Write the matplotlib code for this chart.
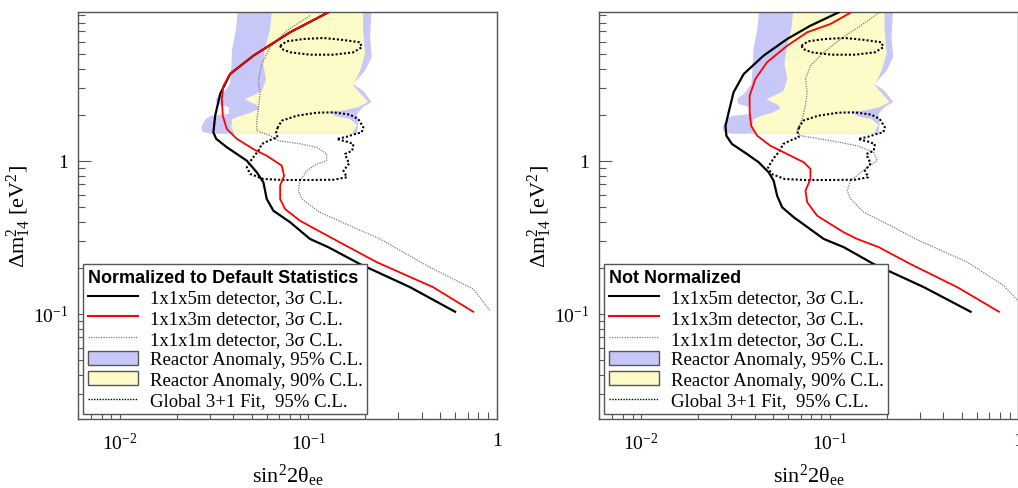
import numpy as np
import matplotlib
matplotlib.use('Agg')
import matplotlib.pyplot as plt
from matplotlib.lines import Line2D
from matplotlib.patches import Patch
from matplotlib.ticker import FixedLocator, FixedFormatter, LogLocator, NullFormatter

# ---- reactor anomaly regions (same on both panels)
anomaly95_x = [0.0424, 0.0413, 0.0394, 0.0389, 0.0384, 0.0350, 0.0322, 0.0328, 0.0378, 0.0378,
               0.0301, 0.0285, 0.0270, 0.0273, 0.0301,
               0.181, 0.1836, 0.181, 0.1952, 0.217, 0.195, 0.173, 0.200, 0.217, 0.2126, 0.217]
anomaly95_y = [10.0, 7.26, 5.37, 3.98, 3.17, 2.73, 2.53, 2.35, 2.24, 2.02,
               1.96, 1.87, 1.66, 1.55, 1.5,
               1.5, 1.74, 2.02, 2.24, 2.42, 2.87, 3.17, 3.87, 4.76, 6.43, 10.0]

anomaly90_x = [0.0642, 0.0626, 0.0589, 0.0575, 0.0596, 0.0568, 0.0503, 0.0461, 0.049, 0.0534,
               0.0547, 0.049, 0.0434, 0.0394, 0.0389, 0.0408,
               0.1706, 0.1814, 0.1664, 0.1386, 0.1303, 0.1566, 0.1836, 0.2074, 0.1881, 0.1727,
               0.1881, 0.200, 0.1952, 0.1952]
anomaly90_y = [10.0, 7.26, 5.37, 4.29, 3.42, 2.855, 2.65, 2.53, 2.42, 2.31,
               2.18, 2.05, 1.96, 1.87, 1.66, 1.5,
               1.5, 1.71, 1.87, 1.96, 2.08, 2.14, 2.24, 2.42, 2.77, 3.12,
               3.87, 5.0, 7.26, 10.0]

# ---- global 3+1 fit, 95% C.L. (two islands)
fit_upper_x = [0.0708, 0.0768, 0.0941, 0.120, 0.1535, 0.188, 0.192, 0.1734, 0.136, 0.102, 0.080, 0.0722]
fit_upper_y = [5.64, 6.03, 6.24, 6.34, 6.15, 5.94, 5.51, 5.11, 4.93, 4.93, 5.11, 5.37]

fit_lower_x = [0.0685, 0.0722, 0.0868, 0.111, 0.136, 0.166, 0.184, 0.196, 0.192, 0.177, 0.160,
               0.1415, 0.160, 0.1734, 0.171, 0.1566, 0.160, 0.165, 0.1535, 0.160, 0.136, 0.098,
               0.0737, 0.0577, 0.0491, 0.0471, 0.0501, 0.0543, 0.0566, 0.0626, 0.0685, 0.0675]
fit_lower_y = [1.636, 1.826, 1.968, 2.06, 2.07, 2.00, 1.873, 1.65, 1.533, 1.494, 1.435,
               1.386, 1.331, 1.285, 1.162, 1.106, 1.026, 0.962, 0.860, 0.779, 0.751, 0.748,
               0.748, 0.759, 0.819, 0.905, 1.026, 1.162, 1.285, 1.365, 1.422, 1.533]

# ---- normalized to default statistics, 3 sigma sensitivity
norm_5m_x = [0.1276, 0.080, 0.0511, 0.0384, 0.0340, 0.0320, 0.0313, 0.0324, 0.0369, 0.0471,
             0.0532, 0.0577, 0.0601, 0.0652, 0.080, 0.102, 0.1276, 0.188, 0.347, 0.601]
norm_5m_y = [9.33, 6.91, 4.86, 3.69, 2.73, 1.97, 1.53, 1.39, 1.224, 1.0,
             0.840, 0.722, 0.562, 0.471, 0.396, 0.308, 0.272, 0.211, 0.149, 0.103]

norm_3m_x = [0.1276, 0.080, 0.0511, 0.0384, 0.0354, 0.0347, 0.0351, 0.0369, 0.0417, 0.0511,
             0.0601, 0.0722, 0.0743, 0.0708, 0.0708, 0.0752, 0.0903, 0.136, 0.231, 0.460, 0.751]
norm_3m_y = [9.33, 6.91, 4.86, 3.69, 3.09, 2.53, 1.97, 1.61, 1.39, 1.19,
             1.078, 0.928, 0.798, 0.687, 0.562, 0.483, 0.405, 0.308, 0.217, 0.149, 0.103]

norm_1m_x = [0.102, 0.0768, 0.0626, 0.0566, 0.0543, 0.0554, 0.0543, 0.0532, 0.0532, 0.0626,
             0.0693, 0.0903, 0.111, 0.125, 0.125, 0.111, 0.098, 0.0903, 0.0885, 0.0923,
             0.115, 0.166, 0.240, 0.442, 0.751, 0.921]
norm_1m_y = [8.87, 7.08, 5.51, 4.29, 3.33, 2.73, 2.23, 1.83, 1.57, 1.46,
             1.35, 1.29, 1.22, 1.106, 1.0, 0.952, 0.86, 0.740, 0.637, 0.562,
             0.460, 0.376, 0.308, 0.201, 0.145, 0.105]

# ---- not normalized
raw_5m_x = [0.1116, 0.0790, 0.0594, 0.0446, 0.0350, 0.0309, 0.0291, 0.0280, 0.0283, 0.0303,
            0.0364, 0.0420, 0.0474, 0.0504, 0.0526, 0.0559, 0.0644, 0.0929, 0.1187, 0.171,
            0.3155, 0.558]
raw_5m_y = [9.33, 7.63, 6.24, 4.86, 3.69, 2.80, 2.07, 1.69, 1.457, 1.286,
            1.106, 0.976, 0.840, 0.740, 0.590, 0.496, 0.427, 0.308, 0.272, 0.211,
            0.149, 0.103]

raw_3m_x = [0.1299, 0.1009, 0.0759, 0.0594, 0.0465, 0.0403, 0.0376, 0.0376, 0.0383, 0.0412,
            0.0484, 0.0594, 0.0728, 0.0790, 0.0790, 0.0743, 0.0759, 0.0857, 0.1187, 0.1397,
            0.182, 0.268, 0.4745, 0.789]
raw_3m_y = [9.33, 7.83, 6.91, 5.64, 4.40, 3.42, 2.66, 2.07, 1.69, 1.457,
            1.253, 1.106, 0.976, 0.883, 0.759, 0.637, 0.535, 0.437, 0.340, 0.308,
            0.272, 0.211, 0.149, 0.103]

raw_1m_x = [0.1858, 0.1456, 0.114, 0.0929, 0.0790, 0.0743, 0.0759, 0.0743, 0.0714, 0.0671,
            0.0699, 0.0790, 0.1009, 0.1397, 0.171, 0.1785, 0.158, 0.1426, 0.1288, 0.1237,
            0.1288, 0.1516, 0.210, 0.285, 0.536, 0.839, 1.007, 1.15]
raw_1m_y = [9.42, 7.63, 6.24, 5.11, 4.18, 3.42, 2.80, 2.29, 1.873, 1.57,
            1.457, 1.422, 1.351, 1.253, 1.135, 1.0, 0.905, 0.819, 0.740, 0.637,
            0.562, 0.460, 0.376, 0.308, 0.217, 0.152, 0.119, 0.10]

legend_labels = ['1x1x5m detector, 3σ C.L.', '1x1x3m detector, 3σ C.L.',
                 '1x1x1m detector, 3σ C.L.', 'Reactor Anomaly, 95% C.L.',
                 'Reactor Anomaly, 90% C.L.', 'Global 3+1 Fit,  95% C.L.']

BLUE = '#c8c8f8'
YELLOW = '#fdfbc8'
FRAME = '#555555'
DOT = (0, (1, 1))


def closed(x, y):
    return list(x) + [x[0]], list(y) + [y[0]]


def draw_panel(ax, c5, c3, c1, title):
    ax.set_xscale('log')
    ax.set_yscale('log')
    ax.fill(anomaly95_x, anomaly95_y, color=BLUE, lw=0, zorder=1)
    ax.fill(anomaly90_x, anomaly90_y, color=YELLOW, lw=0, zorder=1.1)
    for fx, fy in [(fit_upper_x, fit_upper_y), (fit_lower_x, fit_lower_y)]:
        cx, cy = closed(fx, fy)
        ax.plot(cx, cy, color='black', lw=1.5, ls=DOT, zorder=3)
    ax.plot(c1[0], c1[1], color='#7a7a7a', lw=0.9, ls=DOT, zorder=2)
    ax.plot(c5[0], c5[1], color='black', lw=1.6, zorder=4)
    ax.plot(c3[0], c3[1], color='red', lw=1.3, zorder=5)

    ax.set_xlim(0.006, 1.0)
    ax.set_ylim(0.0205, 9.33)

    ax.xaxis.set_major_locator(FixedLocator([0.01, 0.1, 1.0]))
    ax.xaxis.set_major_formatter(FixedFormatter(['10$^{-2}$', '10$^{-1}$', '1']))
    ax.yaxis.set_major_locator(FixedLocator([0.1, 1.0]))
    ax.yaxis.set_major_formatter(FixedFormatter(['10$^{-1}$', '1']))
    for axis in (ax.xaxis, ax.yaxis):
        axis.set_minor_locator(LogLocator(base=10, subs=np.arange(2, 10), numticks=30))
        axis.set_minor_formatter(NullFormatter())
    ax.tick_params(which='both', direction='in', color=FRAME, width=0.8,
                   top=False, right=False, labelsize=14)
    ax.tick_params(which='major', length=9)
    ax.tick_params(which='minor', length=5)
    ax.tick_params(axis='x', pad=9)
    ax.tick_params(axis='y', pad=7)
    for sp in ax.spines.values():
        sp.set_color(FRAME)
        sp.set_linewidth(1.0)

    ax.set_xlabel('sin$^{2}$2θ$_{ee}$', fontsize=16)
    ax.set_ylabel('Δm$^{2}_{14}$ [eV$^{2}$]', fontsize=16)
    ax.xaxis.set_label_coords(0.5, -0.106)
    ax.yaxis.set_label_coords(-0.108, 0.5)

    handles = [Line2D([], [], color='black', lw=1.5),
               Line2D([], [], color='red', lw=1.5),
               Line2D([], [], color='#7a7a7a', lw=0.9, ls=DOT),
               Patch(facecolor=BLUE, edgecolor=FRAME, lw=1.0),
               Patch(facecolor=YELLOW, edgecolor=FRAME, lw=1.0),
               Line2D([], [], color='black', lw=1.0, ls=DOT)]
    leg = ax.legend(handles, legend_labels, loc='lower left', bbox_to_anchor=(0.011, 0.012),
                    borderaxespad=0, fontsize=13.5, title=title, alignment='left',
                    title_fontproperties={'family': 'Liberation Sans', 'weight': 'bold', 'size': 13},
                    handlelength=2.7, handleheight=0.75, handletextpad=0.62,
                    labelspacing=0.17, borderpad=0.25, fancybox=False, framealpha=1)
    leg.get_frame().set_edgecolor(FRAME)
    leg.get_frame().set_linewidth(1.0)
    leg.set_zorder(10)


def main():
    plt.rcParams['font.family'] = ['Liberation Serif', 'DejaVu Serif']
    plt.rcParams['mathtext.default'] = 'regular'
    fig = plt.figure(figsize=(10.18, 4.89), dpi=100)
    ax1 = fig.add_axes([0.0769, 0.1411, 0.411, 0.8317])
    ax2 = fig.add_axes([0.5887, 0.1411, 0.4117, 0.8317])
    draw_panel(ax1, (norm_5m_x, norm_5m_y), (norm_3m_x, norm_3m_y), (norm_1m_x, norm_1m_y),
               'Normalized to Default Statistics')
    draw_panel(ax2, (raw_5m_x, raw_5m_y), (raw_3m_x, raw_3m_y), (raw_1m_x, raw_1m_y),
               'Not Normalized')
    fig.savefig('out.png', dpi=100)


if __name__ == '__main__':
    main()
